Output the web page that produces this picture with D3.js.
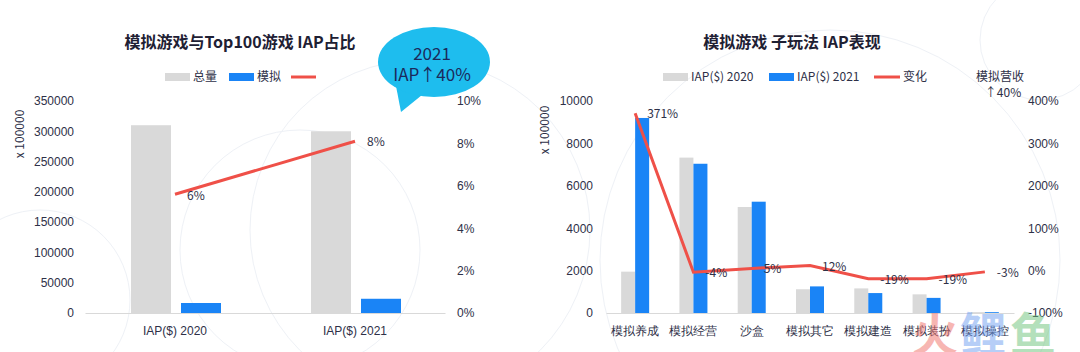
<!DOCTYPE html>
<html>
<head>
<meta charset="utf-8">
<script src="https://cdn.jsdelivr.net/npm/d3@7"></script>
<style>
  body { margin: 0; background: #fff; }
  svg { display: block; font-family: "Noto Sans CJK SC", "Open Sans", sans-serif; }
  .tick text { fill: #2e3047; font-size: 12px; }
</style>
</head>
<body>
<div id="chart"></div>
<script>
// left chart: 模拟游戏与Top100游戏 IAP占比
const leftCats = ["IAP($) 2020", "IAP($) 2021"];
const leftTotal = [310000, 300000];
const leftSim = [16500, 23500];
const leftShare = [0.056, 0.081];
const leftTicks = [0, 50000, 100000, 150000, 200000, 250000, 300000, 350000];
const leftPctTicks = [0, 0.02, 0.04, 0.06, 0.08, 0.1];

// right chart: 模拟游戏 子玩法 IAP表现
const subCats = ["模拟养成", "模拟经营", "沙盒", "模拟其它", "模拟建造", "模拟装扮", "模拟操控"];
const iap2020 = [1950, 7330, 5000, 1120, 1160, 880, 40];
const iap2021 = [9200, 7040, 5250, 1255, 940, 713, 39];
const change = [3.71, -0.04, 0.05, 0.12, -0.19, -0.19, -0.03];
const rightTicks = [0, 2000, 4000, 6000, 8000, 10000];
const rightPctTicks = [-1, 0, 1, 2, 3, 4];

const GRAY = "#d9d9d9", BLUE = "#1a84f6", RED = "#ef5048", TXT = "#2e3047";

// plain hyphen for negatives, like the original
const loc = d3.formatLocale({ decimal: ".", thousands: ",", grouping: [3], currency: ["$", ""], minus: "-" });
const pct = loc.format(".0%");

const svg = d3.select("#chart").append("svg")
    .attr("width", 1080)
    .attr("height", 352);

// faint background decoration
const deco = svg.append("g").attr("fill", "none").attr("stroke", "#eef1f6").attr("stroke-width", 1);
[[420, 230, 170], [300, 250, 120], [830, 260, 230], [1040, 40, 60], [40, 300, 90]].forEach(c => {
    deco.append("circle").attr("cx", c[0]).attr("cy", c[1]).attr("r", c[2]);
});

const plotTop = 101, plotBottom = 313;

// ---------- left chart ----------
const x1 = d3.scaleBand().domain(leftCats).range([85, 445]);
const y1 = d3.scaleLinear().domain([0, 350000]).range([plotBottom, plotTop]);
const p1 = d3.scaleLinear().domain([0, 0.1]).range([plotBottom, plotTop]);

svg.append("g")
    .attr("transform", `translate(0,${plotBottom})`)
    .call(d3.axisBottom(x1).tickSize(0).tickPadding(13))
    .call(g => g.select(".domain").attr("stroke", GRAY));

svg.append("g")
    .attr("transform", "translate(85,0)")
    .call(d3.axisLeft(y1).tickValues(leftTicks).tickSize(0).tickPadding(11).tickFormat(d3.format("d")))
    .call(g => g.select(".domain").remove());

svg.append("g")
    .attr("transform", "translate(445,0)")
    .call(d3.axisRight(p1).tickValues(leftPctTicks).tickSize(0).tickPadding(12).tickFormat(pct))
    .call(g => g.select(".domain").remove());

const c1 = d => x1(d) + x1.bandwidth() / 2 + 1;
svg.append("g").selectAll("rect")
    .data(leftCats)
    .join("rect")
    .attr("x", d => c1(d) - 45)
    .attr("width", 40)
    .attr("y", (d, i) => y1(leftTotal[i]))
    .attr("height", (d, i) => plotBottom - y1(leftTotal[i]))
    .attr("fill", GRAY);
svg.append("g").selectAll("rect")
    .data(leftCats)
    .join("rect")
    .attr("x", d => c1(d) + 5)
    .attr("width", 40)
    .attr("y", (d, i) => y1(leftSim[i]))
    .attr("height", (d, i) => plotBottom - y1(leftSim[i]))
    .attr("fill", BLUE);

const line1 = d3.line()
    .x((d, i) => x1(leftCats[i]) + x1.bandwidth() / 2)
    .y(d => p1(d));
svg.append("path")
    .datum(leftShare)
    .attr("d", line1)
    .attr("fill", "none")
    .attr("stroke", RED)
    .attr("stroke-width", 3);
svg.append("g").selectAll("text")
    .data(leftShare)
    .join("text")
    .attr("x", (d, i) => x1(leftCats[i]) + x1.bandwidth() / 2 + 12)
    .attr("y", (d, i) => p1(d) + (i == 0 ? 6 : 5))
    .attr("font-size", 12)
    .attr("fill", TXT)
    .text(pct);

svg.append("text")
    .attr("transform", "translate(24,134) rotate(-90)")
    .attr("text-anchor", "middle")
    .attr("font-size", 12)
    .attr("fill", TXT)
    .text("x 100000");

svg.append("text")
    .attr("x", 240).attr("y", 48)
    .attr("text-anchor", "middle")
    .attr("font-size", 16)
    .attr("font-weight", "bold")
    .attr("fill", "#1e2033")
    .text("模拟游戏与Top100游戏 IAP占比");

// legend left
const lg1 = svg.append("g").attr("font-size", 12).attr("fill", TXT);
lg1.append("rect").attr("x", 165).attr("y", 73).attr("width", 25).attr("height", 8).attr("fill", GRAY);
lg1.append("text").attr("x", 193).attr("y", 81).text("总量");
lg1.append("rect").attr("x", 229).attr("y", 73).attr("width", 25).attr("height", 8).attr("fill", BLUE);
lg1.append("text").attr("x", 257).attr("y", 81).text("模拟");
lg1.append("line").attr("x1", 291).attr("x2", 316).attr("y1", 77).attr("y2", 77).attr("stroke", RED).attr("stroke-width", 3);

// callout bubble
svg.append("path")
    .attr("d", "M396,86 L401,112 L422,95 Z")
    .attr("fill", "#1ebdee");
svg.append("ellipse")
    .attr("cx", 434).attr("cy", 62).attr("rx", 56).attr("ry", 35)
    .attr("fill", "#1ebdee");
svg.append("text").attr("x", 432).attr("y", 60)
    .attr("text-anchor", "middle").attr("font-size", 17).attr("fill", "#1b2a5c")
    .text("2021");
svg.append("text").attr("x", 432).attr("y", 81)
    .attr("text-anchor", "middle").attr("font-size", 17).attr("fill", "#1b2a5c")
    .text("IAP↑40%");

// ---------- right chart ----------
const x2 = d3.scaleBand().domain(subCats).range([606, 1014]);
const y2 = d3.scaleLinear().domain([0, 10000]).range([plotBottom, plotTop]);
const p2 = d3.scaleLinear().domain([-1, 4]).range([plotBottom, plotTop]);
const c2 = d => x2(d) + x2.bandwidth() / 2;

svg.append("g")
    .attr("transform", `translate(0,${plotBottom})`)
    .call(d3.axisBottom(x2).tickSize(0).tickPadding(13))
    .call(g => g.select(".domain").attr("stroke", GRAY));

svg.append("g")
    .attr("transform", "translate(606,0)")
    .call(d3.axisLeft(y2).tickValues(rightTicks).tickSize(0).tickPadding(13).tickFormat(d3.format("d")))
    .call(g => g.select(".domain").remove());

svg.append("g")
    .attr("transform", "translate(1014,0)")
    .call(d3.axisRight(p2).tickValues(rightPctTicks).tickSize(0).tickPadding(14).tickFormat(pct))
    .call(g => g.select(".domain").remove());

svg.append("g").selectAll("rect")
    .data(subCats)
    .join("rect")
    .attr("x", d => c2(d) - 14)
    .attr("width", 14)
    .attr("y", (d, i) => y2(iap2020[i]))
    .attr("height", (d, i) => plotBottom - y2(iap2020[i]))
    .attr("fill", GRAY);
svg.append("g").selectAll("rect")
    .data(subCats)
    .join("rect")
    .attr("x", d => c2(d))
    .attr("width", 14)
    .attr("y", (d, i) => y2(iap2021[i]))
    .attr("height", (d, i) => plotBottom - y2(iap2021[i]))
    .attr("fill", BLUE);

const line2 = d3.line()
    .x((d, i) => c2(subCats[i]))
    .y(d => p2(d));
svg.append("path")
    .datum(change)
    .attr("d", line2)
    .attr("fill", "none")
    .attr("stroke", RED)
    .attr("stroke-width", 3);
svg.append("g").selectAll("text")
    .data(change)
    .join("text")
    .attr("x", (d, i) => c2(subCats[i]) + 12)
    .attr("y", d => p2(d) + 5)
    .attr("font-size", 12)
    .attr("fill", TXT)
    .text(pct);

svg.append("text")
    .attr("transform", "translate(549,130) rotate(-90)")
    .attr("text-anchor", "middle")
    .attr("font-size", 12)
    .attr("fill", TXT)
    .text("x 100000");

svg.append("text")
    .attr("x", 792).attr("y", 48)
    .attr("text-anchor", "middle")
    .attr("font-size", 16)
    .attr("font-weight", "bold")
    .attr("fill", "#1e2033")
    .text("模拟游戏 子玩法 IAP表现");

const lg2 = svg.append("g").attr("font-size", 12).attr("fill", TXT);
lg2.append("rect").attr("x", 663).attr("y", 73).attr("width", 25).attr("height", 8).attr("fill", GRAY);
lg2.append("text").attr("x", 691).attr("y", 81).text("IAP($) 2020");
lg2.append("rect").attr("x", 769).attr("y", 73).attr("width", 25).attr("height", 8).attr("fill", BLUE);
lg2.append("text").attr("x", 797).attr("y", 81).text("IAP($) 2021");
lg2.append("line").attr("x1", 874).attr("x2", 900).attr("y1", 77).attr("y2", 77).attr("stroke", RED).attr("stroke-width", 3);
lg2.append("text").attr("x", 903).attr("y", 81).text("变化");

lg2.append("text").attr("x", 1000).attr("y", 81).attr("text-anchor", "middle").text("模拟营收");
lg2.append("text").attr("x", 1003).attr("y", 97).attr("text-anchor", "middle").text("↑40%");

// watermark
const wm = svg.append("g").attr("font-size", 46).attr("font-weight", "bold").attr("opacity", 0.5);
wm.append("text").attr("x", 912).attr("y", 351).attr("fill", "#f07068").text("火");
wm.append("text").attr("x", 960).attr("y", 351).attr("fill", "#6f9ff0").text("鲤");
wm.append("text").attr("x", 1010).attr("y", 351).attr("fill", "#6cc27a").text("鱼");
</script>
</body>
</html>
